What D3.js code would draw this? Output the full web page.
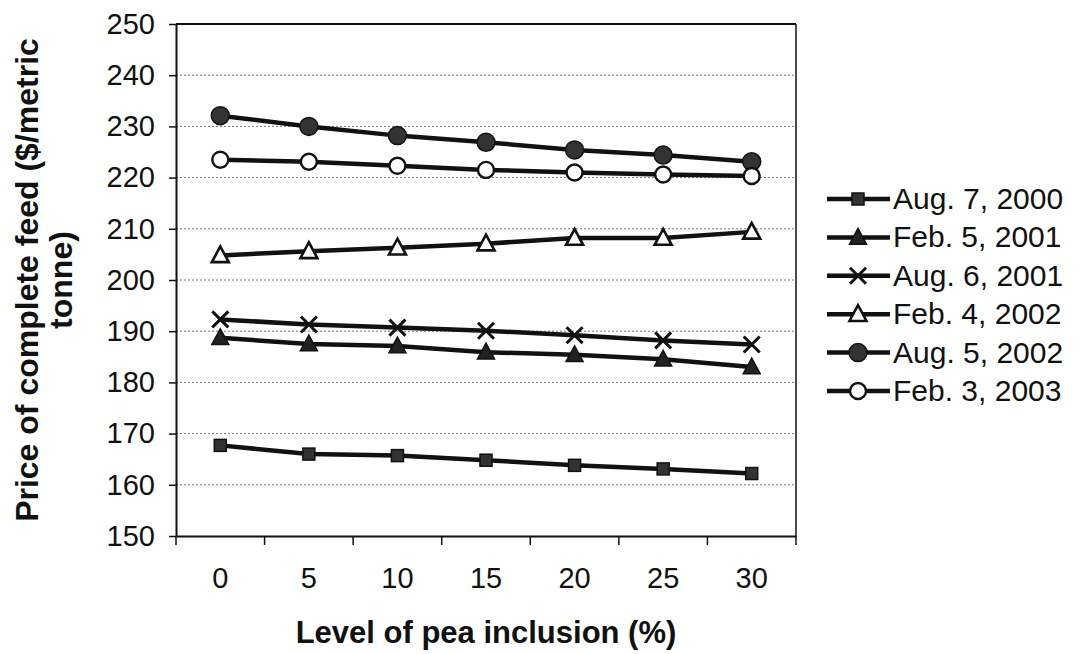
<!DOCTYPE html>
<html><head><meta charset="utf-8">
<script src="https://cdn.jsdelivr.net/npm/d3@7"></script>
<style>body{margin:0;background:#fff}svg{display:block}text{font-family:"Liberation Sans",Arial,sans-serif;fill:#111}</style>
</head><body><svg id="c" width="1081" height="654"></svg>
<script>
const categories = ["0","5","10","15","20","25","30"];
const seriesNames = ["Aug. 7, 2000","Feb. 5, 2001","Aug. 6, 2001","Feb. 4, 2002","Aug. 5, 2002","Feb. 3, 2003"];
const aug2000 = [167.7,166.0,165.7,164.8,163.8,163.1,162.2];
const feb2001 = [188.7,187.5,187.1,185.9,185.4,184.5,183.0];
const aug2001 = [192.3,191.3,190.7,190.1,189.2,188.2,187.4];
const feb2002 = [204.8,205.6,206.3,207.1,208.2,208.2,209.4];
const aug2002 = [232.1,230.0,228.2,226.9,225.4,224.4,223.1];
const feb2003 = [223.5,223.1,222.3,221.5,221.0,220.6,220.3];
const yTicks = [150,160,170,180,190,200,210,220,230,240,250];
const markers = ["square","triangleFilled","cross","triangleOpen","circleFilled","circleOpen"];
const seriesValues = [aug2000,feb2001,aug2001,feb2002,aug2002,feb2003];

const svg = d3.select("#c");
const L=176,R=796,T=24,B=536;
const x = d3.scaleBand().domain(categories).range([L,R]);
const y = d3.scaleLinear().domain([150,250]).range([B,T]);

// gridlines
svg.append("g").selectAll("line").data(yTicks.filter(t=>t>150&&t<250)).join("line")
  .attr("x1",L).attr("x2",R).attr("y1",d=>y(d)).attr("y2",d=>y(d))
  .attr("stroke","#777").attr("stroke-width",1).attr("stroke-dasharray","2,2");
// frame top/right
svg.append("line").attr("x1",L).attr("x2",R).attr("y1",T).attr("y2",T).attr("stroke","#111").attr("stroke-width",2);
svg.append("line").attr("x1",R).attr("x2",R).attr("y1",T).attr("y2",B).attr("stroke","#111").attr("stroke-width",1.5);

// y axis
const ya = svg.append("g").attr("transform",`translate(${L},0)`)
  .call(d3.axisLeft(y).tickValues(yTicks).tickSize(7).tickPadding(14).tickSizeOuter(0));
ya.select(".domain").attr("stroke","#111").attr("stroke-width",2);
ya.selectAll(".tick line").attr("stroke","#111").attr("stroke-width",1.5);
ya.selectAll("text").attr("font-size","29px").style("font-family","Liberation Sans, Arial, sans-serif").attr("fill","#111");

// x axis
const xa = svg.append("g").attr("transform",`translate(0,${B})`)
  .call(d3.axisBottom(x).tickSize(0).tickPadding(31));
xa.select(".domain").attr("stroke","#111").attr("stroke-width",2);
xa.selectAll("text").attr("font-size","29px").style("font-family","Liberation Sans, Arial, sans-serif").attr("fill","#111");
// boundary ticks
const bounds = categories.map(c=>x(c)).concat([R]);
svg.append("g").selectAll("line").data(bounds).join("line")
  .attr("x1",d=>d).attr("x2",d=>d).attr("y1",B).attr("y2",B+9).attr("stroke","#111").attr("stroke-width",1.5);

// titles
svg.append("text").attr("x",(L+R)/2).attr("y",643).attr("text-anchor","middle")
  .attr("font-size","31px").attr("font-weight","bold").text("Level of pea inclusion (%)");
const yt = svg.append("text").attr("transform",`translate(0,${(T+B)/2}) rotate(-90)`)
  .attr("text-anchor","middle").attr("font-size","32px").attr("font-weight","bold");
yt.append("tspan").attr("x",0).attr("y",38).text("Price of complete feed ($/metric");
yt.append("tspan").attr("x",0).attr("y",72).text("tonne)");

function drawMarker(g, type, cx, cy){
  if(type==="square"){
    g.append("rect").attr("x",cx-6).attr("y",cy-6).attr("width",12).attr("height",12)
      .attr("fill","#333").attr("stroke","#111").attr("stroke-width",1.5);
  } else if(type==="triangleFilled"||type==="triangleOpen"){
    const h=15, w=17;
    const p=[[cx,cy-h*0.6],[cx-w/2,cy+h*0.45],[cx+w/2,cy+h*0.45]];
    g.append("path").attr("d","M"+p.map(q=>q.join(",")).join("L")+"Z")
      .attr("fill",type==="triangleFilled"?"#222":"#fff").attr("stroke","#111").attr("stroke-width",type==="triangleFilled"?1.5:2.6)
      .attr("stroke-linejoin","miter");
  } else if(type==="cross"){
    const r=8;
    g.append("path").attr("d",`M${cx-r},${cy-r}L${cx+r},${cy+r}M${cx-r},${cy+r}L${cx+r},${cy-r}`)
      .attr("stroke","#111").attr("stroke-width",3);
  } else if(type==="circleFilled"){
    g.append("circle").attr("cx",cx).attr("cy",cy).attr("r",9).attr("fill","#333").attr("stroke","#111").attr("stroke-width",1.5);
  } else if(type==="circleOpen"){
    g.append("circle").attr("cx",cx).attr("cy",cy).attr("r",8).attr("fill","#fff").attr("stroke","#111").attr("stroke-width",2.4);
  }
}

const line = d3.line().x((d,i)=>x(categories[i])+x.bandwidth()/2).y(d=>y(d));
seriesValues.forEach((vals,k)=>{
  const g = svg.append("g");
  g.append("path").datum(vals).attr("d",line).attr("fill","none").attr("stroke","#111").attr("stroke-width",4.5);
  vals.forEach((v,i)=>drawMarker(g,markers[k],x(categories[i])+x.bandwidth()/2,y(v)));
});

// legend
const lg = svg.append("g");
seriesNames.forEach((name,k)=>{
  const cy = 199 + k*38.4;
  lg.append("line").attr("x1",827).attr("x2",890).attr("y1",cy).attr("y2",cy).attr("stroke","#111").attr("stroke-width",4.5);
  drawMarker(lg,markers[k],858,cy);
  lg.append("text").attr("x",893).attr("y",cy+10).attr("font-size","30px").text(name);
});
</script></body></html>
